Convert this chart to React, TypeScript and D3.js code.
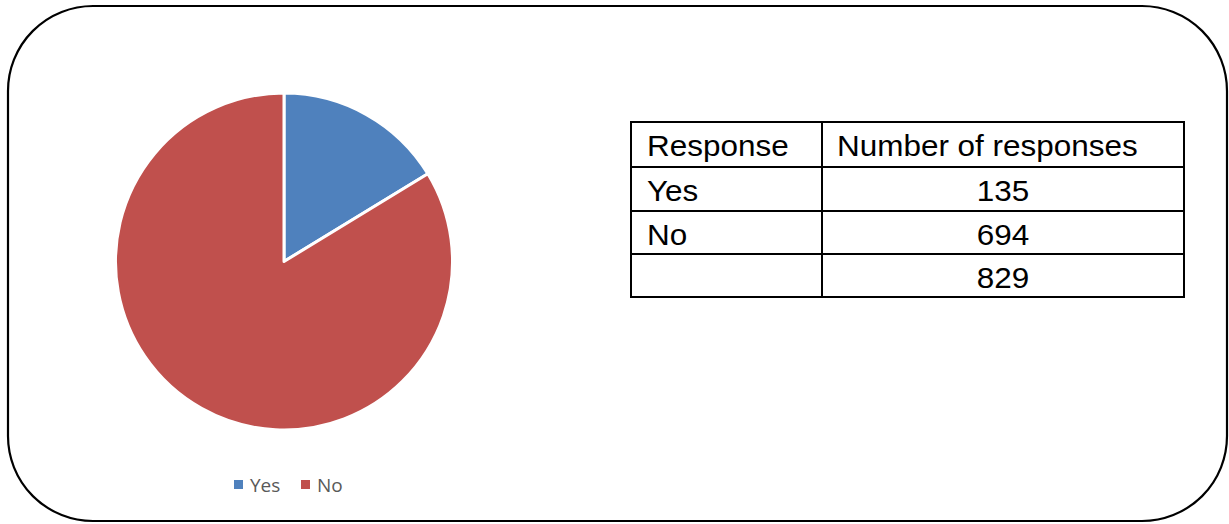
import React from "react";
import * as d3 from "d3";

const categories = ["Yes", "No"];
const values = [135, 694];
const colors = ["#4F81BD", "#C0504D"];
const tableHeader = ["Response", "Number of responses"];
const tableRows = [
  ["Yes", "135"],
  ["No", "694"],
  ["", "829"],
];

export default function App() {
  const W = 1229, H = 524;
  const cx = 284, cy = 261.5, r = 168.5;
  const pie = d3.pie<number>().sort(null).value((d) => d)(values);
  const arc = d3.arc<d3.PieArcDatum<number>>().innerRadius(0).outerRadius(r);

  const tx0 = 631, tx1 = 1184, tcol = 822;
  const rowYs = [122, 167, 211, 254, 297];
  const sx = 1.085;
  const T = (x: number, y: number, s: string, anchor: string = "start", key?: any) => (
    <text key={key} transform={`translate(${x},${y}) scale(${sx},1)`} textAnchor={anchor}>{s}</text>
  );

  return (
    <svg width={W} height={H} style={{ position: "absolute", left: 0, top: 0 }}>
      <rect x={8} y={6} width={1219} height={515} rx={85} ry={85} fill="#fff" stroke="#000" strokeWidth={2.2} />
      <g transform={`translate(${cx},${cy})`}>
        {pie.map((p, i) => (
          <path key={i} d={arc(p) || ""} fill={colors[i]} stroke="#fff" strokeWidth={3} strokeLinejoin="round" />
        ))}
      </g>
      {categories.map((c, i) => {
        const x = [234, 301][i];
        return (
          <g key={c}>
            <rect x={x} y={480} width={9} height={9} fill={colors[i]} />
            <text x={x + 16} y={491.5} fontFamily="'Open Sans', 'Noto Sans', sans-serif" fontSize={19} fill="#595959">{c}</text>
          </g>
        );
      })}
      <g fontFamily="'Liberation Sans', Arial, sans-serif" fontSize={29} fill="#000">
        {rowYs.map((y, i) => (
          <line key={i} x1={tx0} x2={tx1} y1={y} y2={y} stroke="#000" strokeWidth={2} />
        ))}
        {[tx0, tcol, tx1].map((x, i) => (
          <line key={i} x1={x} x2={x} y1={rowYs[0] - 1} y2={rowYs[4] + 1} stroke="#000" strokeWidth={2} />
        ))}
        {T(647, 156, tableHeader[0])}
        {T(837, 156, tableHeader[1])}
        {tableRows.map((row, i) => {
          const yb = rowYs[i + 1] + 34;
          return (
            <g key={i}>
              {T(647, yb, row[0])}
              {T((tcol + tx1) / 2, yb, row[1], "middle")}
            </g>
          );
        })}
      </g>
    </svg>
  );
}
